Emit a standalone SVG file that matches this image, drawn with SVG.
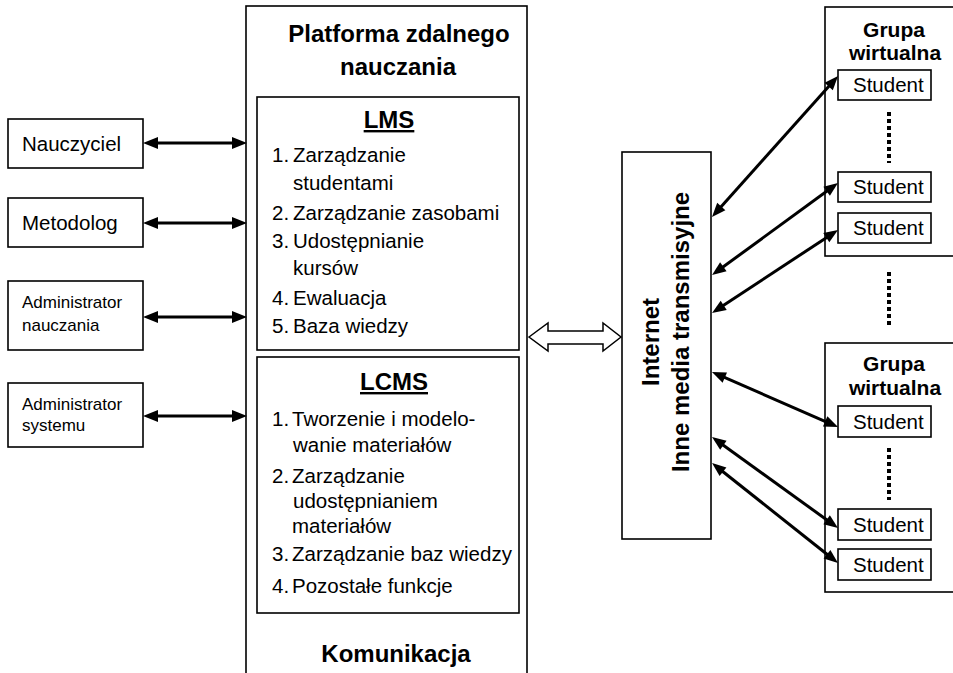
<svg xmlns="http://www.w3.org/2000/svg" width="953" height="673" viewBox="0 0 953 673">
<style>
.box{fill:#fff;stroke:#000;stroke-width:1.6}
.t{font-family:"Liberation Sans",Arial,sans-serif;font-size:20.5px;fill:#000}
.s{font-family:"Liberation Sans",Arial,sans-serif;font-size:17px;fill:#000}
.b{font-family:"Liberation Sans",Arial,sans-serif;font-size:24px;font-weight:bold;fill:#000}
.g{font-family:"Liberation Sans",Arial,sans-serif;font-size:21px;font-weight:bold;fill:#000}
.u{text-decoration:underline}
.la{stroke:#000;stroke-width:3.2;fill:none;marker-start:url(#hl);marker-end:url(#hl)}
.ra{stroke:#000;stroke-width:3;fill:none;marker-start:url(#hr);marker-end:url(#hr)}
.dots{stroke:#000;stroke-width:4;stroke-dasharray:4 3;fill:none}
</style>
<defs>
<marker id="hl" markerUnits="userSpaceOnUse" markerWidth="16" markerHeight="13" refX="6" refY="6" orient="auto-start-reverse" viewBox="0 0 16 12" overflow="visible">
<path d="M0,0 L15,6 L0,12 z" fill="#000"/>
</marker>
<marker id="hr" markerUnits="userSpaceOnUse" markerWidth="15" markerHeight="12" refX="6" refY="5.5" orient="auto-start-reverse" viewBox="0 0 15 11" overflow="visible">
<path d="M0,0 L14,5.5 L0,11 z" fill="#000"/>
</marker>
</defs>
<rect width="953" height="673" fill="#fff"/>

<g id="nauczyciel">
<rect class="box" x="8" y="119" width="135" height="49"/>
<text class="t" x="22" y="151">Nauczyciel</text>
</g>
<g id="metodolog">
<rect class="box" x="8" y="198" width="135" height="49"/>
<text class="t" x="22" y="230">Metodolog</text>
</g>
<g id="admin-nauczania">
<rect class="box" x="8" y="281" width="135" height="69"/>
<text class="s" x="22" y="308">Administrator</text>
<text class="s" x="22" y="331">nauczania</text>
</g>
<g id="admin-systemu">
<rect class="box" x="8" y="383" width="135" height="64"/>
<text class="s" x="22" y="410">Administrator</text>
<text class="s" x="22" y="431">systemu</text>
</g>

<g id="platforma">
<rect class="box" x="246" y="6" width="281" height="700"/>
<text class="b" x="399" y="42" text-anchor="middle">Platforma zdalnego</text>
<text class="b" x="398" y="75" text-anchor="middle">nauczania</text>
<text class="b" x="396" y="662" text-anchor="middle">Komunikacja</text>
</g>

<g id="lms">
<rect class="box" x="257" y="97" width="262" height="253"/>
<text class="b u" x="389" y="128" text-anchor="middle">LMS</text>
<text class="t" y="162"><tspan x="272">1.</tspan><tspan x="293">Zarządzanie</tspan></text>
<text class="t" x="293" y="190">studentami</text>
<text class="t" y="220"><tspan x="272">2.</tspan><tspan x="293">Zarządzanie zasobami</tspan></text>
<text class="t" y="248"><tspan x="272">3.</tspan><tspan x="293">Udostępnianie</tspan></text>
<text class="t" x="293" y="275">kursów</text>
<text class="t" y="305"><tspan x="272">4.</tspan><tspan x="293">Ewaluacja</tspan></text>
<text class="t" y="333"><tspan x="272">5.</tspan><tspan x="293">Baza wiedzy</tspan></text>
</g>

<g id="lcms">
<rect class="box" x="257" y="357" width="262" height="256"/>
<text class="b u" x="394" y="390" text-anchor="middle">LCMS</text>
<text class="t" y="426"><tspan x="272">1.</tspan><tspan x="292">Tworzenie i modelo-</tspan></text>
<text class="t" x="293" y="452">wanie materiałów</text>
<text class="t" y="483"><tspan x="272">2.</tspan><tspan x="292">Zarządzanie</tspan></text>
<text class="t" x="293" y="508">udostępnianiem</text>
<text class="t" x="292" y="533">materiałów</text>
<text class="t" y="561"><tspan x="272">3.</tspan><tspan x="292">Zarządzanie baz wiedzy</tspan></text>
<text class="t" y="593"><tspan x="272">4.</tspan><tspan x="292">Pozostałe funkcje</tspan></text>
</g>

<g id="internet">
<rect class="box" x="622" y="152" width="89" height="387"/>
<text class="b" transform="translate(659,342) rotate(-90)" text-anchor="middle">Internet</text>
<text class="b" transform="translate(689,332) rotate(-90)" text-anchor="middle">Inne media transmisyjne</text>
</g>

<g id="grupa1">
<rect class="box" x="825" y="7" width="140" height="249"/>
<text class="g" x="894" y="37" text-anchor="middle">Grupa</text>
<text class="g" x="895" y="60" text-anchor="middle">wirtualna</text>
</g>
<g id="student1"><rect class="box" x="838" y="70" width="93" height="30"/><text class="t" x="853" y="92">Student</text></g>
<g id="student2"><rect class="box" x="838" y="172" width="93" height="30"/><text class="t" x="853" y="194">Student</text></g>
<g id="student3"><rect class="box" x="838" y="213" width="93" height="30"/><text class="t" x="853" y="235">Student</text></g>

<g id="grupa2">
<rect class="box" x="825" y="343" width="140" height="249"/>
<text class="g" x="894" y="371" text-anchor="middle">Grupa</text>
<text class="g" x="895" y="395" text-anchor="middle">wirtualna</text>
</g>
<g id="student4"><rect class="box" x="838" y="406" width="93" height="31"/><text class="t" x="853" y="429">Student</text></g>
<g id="student5"><rect class="box" x="838" y="509" width="93" height="31"/><text class="t" x="853" y="532">Student</text></g>
<g id="student6"><rect class="box" x="838" y="549" width="93" height="31"/><text class="t" x="853" y="572">Student</text></g>

<g id="ellipses">
<line class="dots" x1="889" y1="112" x2="889" y2="163"/>
<line class="dots" x1="889" y1="272" x2="889" y2="325"/>
<line class="dots" x1="889" y1="448" x2="889" y2="500"/>
</g>

<g id="connectors">
<line class="la" x1="152" y1="143" x2="238" y2="143"/>
<line class="la" x1="152" y1="223" x2="238" y2="223"/>
<line class="la" x1="152" y1="317" x2="238" y2="317" stroke-width="5"/>
<line class="la" x1="152" y1="416" x2="238" y2="416"/>
<polygon points="529,337 548,323 548,331 603,331 603,323 621,337 603,351 603,344 548,344 548,351" fill="#fff" stroke="#000" stroke-width="1.5"/>
<line class="ra" x1="717.3" y1="211" x2="832.7" y2="82" stroke-width="3.6"/>
<line class="ra" x1="718.5" y1="270.3" x2="831.5" y2="187.7" stroke-width="2.6"/>
<line class="ra" x1="718.7" y1="308.6" x2="831.3" y2="234.4" stroke-width="3.2"/>
<line class="ra" x1="719.3" y1="375.2" x2="830.7" y2="423.8" stroke-width="2.6"/>
<line class="ra" x1="718.5" y1="441.7" x2="831.5" y2="523.3" stroke-width="3.8"/>
<line class="ra" x1="718.3" y1="468" x2="831.7" y2="558" stroke-width="3"/>
</g>
</svg>
